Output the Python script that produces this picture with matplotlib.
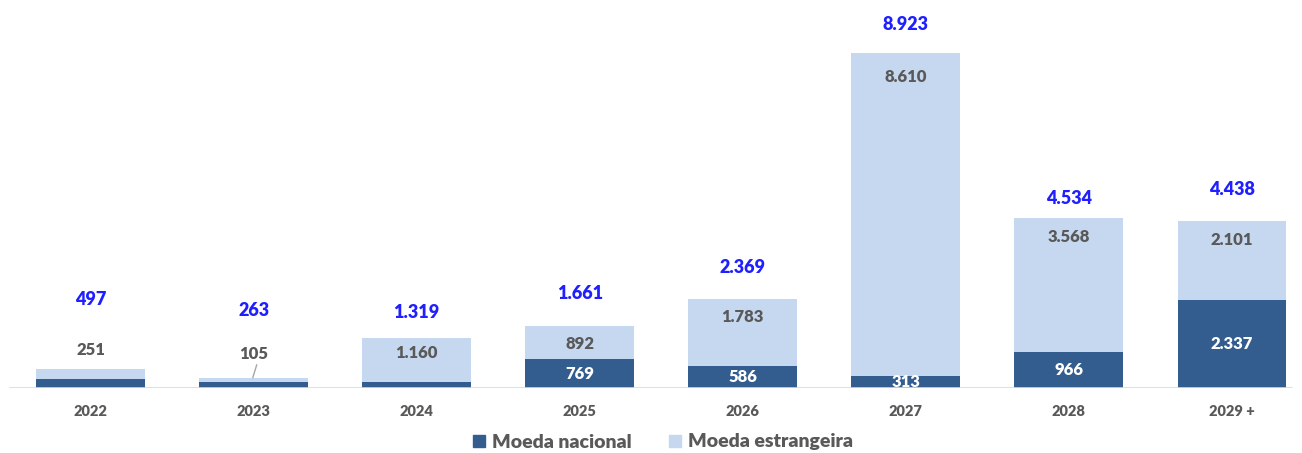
import matplotlib
matplotlib.use("Agg")
import matplotlib.pyplot as plt
import numpy as np
from matplotlib.lines import Line2D

categories = ["2022", "2023", "2024", "2025", "2026", "2027", "2028", "2029 +"]
moeda_nacional = [246, 158, 159, 769, 586, 313, 966, 2337]
moeda_estrangeira = [251, 105, 1160, 892, 1783, 8610, 3568, 2101]
totais = [497, 263, 1319, 1661, 2369, 8923, 4534, 4438]
show_nacional_label = [False, False, False, True, True, True, True, True]

# label placement (pixels, styling only)
total_offsets = [70, 68, 26, 32, 32, 29, 19, 32]
estr_offsets = [19, 24, -15, -18, -18, -24, -19, -19]

DARK = "#335C8F"
LIGHT = "#C6D8EF"
GRAY = "#595959"
BLUE = "#1F1FFF"

plt.rcParams['font.family'] = ['Lato', 'DejaVu Sans']

fig = plt.figure(figsize=(13.02, 4.53), dpi=100)
ax = fig.add_axes([0, 65/453, 1, 388/453])

def fmt(v):
    return f"{v:,}".replace(",", ".")

x = np.arange(len(categories))
w = 0.668
ax.bar(x, moeda_nacional, w, color=DARK, label="Moeda nacional", zorder=2)
ax.bar(x, moeda_estrangeira, w, bottom=moeda_nacional, color=LIGHT,
       label="Moeda estrangeira", zorder=2)

px = 72 / 100  # points per pixel
for i in range(len(categories)):
    top = moeda_nacional[i] + moeda_estrangeira[i]
    ax.annotate(fmt(totais[i]), (x[i], top), xytext=(0, total_offsets[i] * px),
                textcoords="offset points", ha="center", va="center",
                color=BLUE, fontsize=13, fontweight="heavy")
    ax.annotate(fmt(moeda_estrangeira[i]), (x[i], top),
                xytext=(0, estr_offsets[i] * px),
                textcoords="offset points", ha="center", va="center",
                color=GRAY, fontsize=12, fontweight="heavy")
    if show_nacional_label[i]:
        ax.text(x[i], moeda_nacional[i] / 2, fmt(moeda_nacional[i]), ha="center",
                va="center", color="white", fontsize=12, fontweight="heavy")

# leader line for 2023
top23 = moeda_nacional[1] + moeda_estrangeira[1]
ax.annotate("", xy=(x[1] - 0.005, top23 + 10), xycoords="data",
            xytext=(4 * px, 13 * px), textcoords="offset points",
            arrowprops=dict(arrowstyle="-", color="#A6A6A6", lw=1,
                            shrinkA=0, shrinkB=0))

a = 90.5
b = 163.07
ax.set_xlim(-a / b, (1302 - a) / b)
ax.set_ylim(0, 8923 * 388 / 335)
for s in ax.spines.values():
    s.set_visible(False)
ax.axhline(0, xmin=10 / 1302, xmax=1292 / 1302, color="#D9D9D9", lw=1.2, zorder=3)
ax.set_yticks([])
ax.set_xticks(x)
ax.set_xticklabels(categories, fontsize=10.5, fontweight="heavy", color=GRAY)
ax.tick_params(axis="x", length=0, pad=12)

handles = [Line2D([], [], marker="s", linestyle="none", markersize=8,
                  color=DARK, label="Moeda nacional"),
           Line2D([], [], marker="s", linestyle="none", markersize=8,
                  color=LIGHT, label="Moeda estrangeira")]
fig.legend(handles=handles, loc="center", bbox_to_anchor=(660 / 1302, 1 - 442 / 453),
           ncol=2, frameon=False, handletextpad=0.1, handlelength=1.2,
           columnspacing=1.6, prop={"weight": "heavy", "size": 14},
           labelcolor=GRAY)

fig.savefig("out.png", dpi=100)
